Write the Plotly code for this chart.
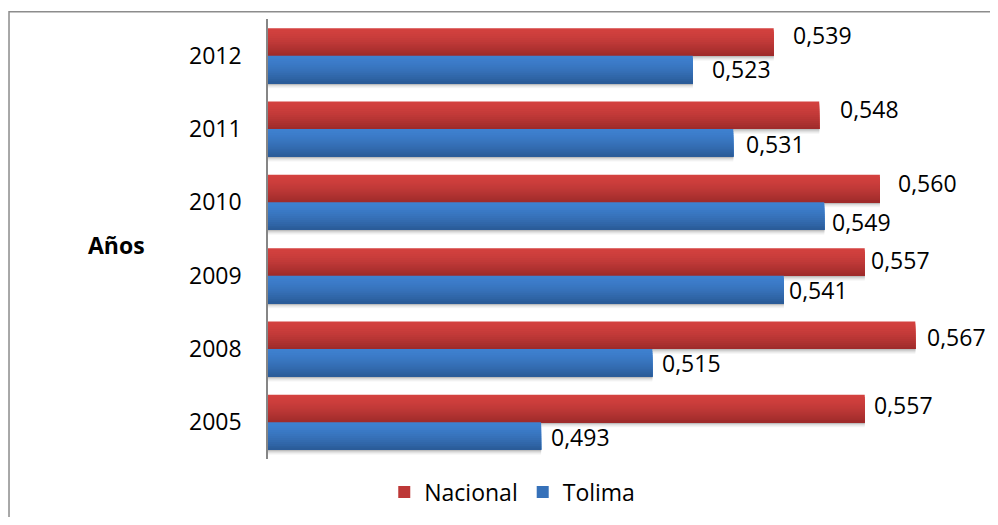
import plotly.graph_objects as go

years = ["2005", "2008", "2009", "2010", "2011", "2012"]
nacional = [0.557, 0.567, 0.557, 0.560, 0.548, 0.539]
tolima = [0.493, 0.515, 0.541, 0.549, 0.531, 0.523]
nacional_labels = ["0,557", "0,567", "0,557", "0,560", "0,548", "0,539"]
tolima_labels = ["0,493", "0,515", "0,541", "0,549", "0,531", "0,523"]

# label placement tweaks (pixels) as in the original hand-placed labels
nac_dx = [7, 10, 4, 16, 19, 17]
nac_dy = [4, -1.5, 2, 6, 6, 7]
tol_dx = [8, 8, 3, 6, 11, 17]
tol_dy = [-0.5, -0.5, -0.5, -5.5, -1, 0]

FONT = "Open Sans"
FS = 23
X0, X1 = 0.439, 0.579

RED_TOP, RED_BOT = (211, 65, 63), (156, 42, 42)
BLUE_TOP, BLUE_BOT = (62, 128, 207), (42, 90, 150)

K = 14
HALF = 0.375
h = HALF / K


def lerp(c0, c1, t):
    return "rgb(%d,%d,%d)" % tuple(round(a + (b - a) * t) for a, b in zip(c0, c1))


def shade(t):
    return t ** 1.5


fig = go.Figure()

# soft shadow under the bars
px = 1 / 73.33
shadow_cols = ["#bdbdbd", "#cfcfcf", "#dfdfdf", "#ececec", "#f6f6f6"]
for vals, top in ((nacional, 0.0), (tolima, -HALF)):
    for k in range(len(shadow_cols) - 1, -1, -1):
        fig.add_trace(go.Bar(
            y=years, x=vals, orientation="h", showlegend=False, hoverinfo="skip",
            offset=top - (k + 1) * px, width=(k + 1) * px,
            marker=dict(color=shadow_cols[k], line=dict(width=0)),
        ))

# gradient bars: nested bars anchored at the bottom edge, each later one shorter,
# so strip j shows between top-(j+1)h and top-jh
for name, vals, top, c0, c1, rank in (
    ("Nacional", nacional, HALF, RED_TOP, RED_BOT, 1),
    ("Tolima", tolima, 0.0, BLUE_TOP, BLUE_BOT, 2),
):
    for j in range(K):
        t = (j + 0.5) / K
        fig.add_trace(go.Bar(
            y=years, x=vals, orientation="h", name=name,
            offset=top - HALF, width=HALF - j * h,
            marker=dict(color=lerp(c0, c1, shade(t)), line=dict(width=0)),
            showlegend=(j == K // 2), legendrank=rank,
            hoverinfo="x+name",
        ))

annotations = []
for i, y in enumerate(years):
    annotations.append(dict(x=nacional[i], y=i + HALF / 2, xref="x", yref="y",
                            text=nacional_labels[i], showarrow=False,
                            xanchor="left", yanchor="middle",
                            xshift=nac_dx[i], yshift=nac_dy[i],
                            font=dict(family=FONT, size=FS, color="#000")))
    annotations.append(dict(x=tolima[i], y=i - HALF / 2, xref="x", yref="y",
                            text=tolima_labels[i], showarrow=False,
                            xanchor="left", yanchor="middle",
                            xshift=tol_dx[i], yshift=tol_dy[i],
                            font=dict(family=FONT, size=FS, color="#000")))
annotations.append(dict(x=-0.214, y=0.486, xref="paper", yref="paper", text="<b>Años</b>",
                        showarrow=False, xanchor="center", yanchor="middle",
                        font=dict(family=FONT, size=FS, color="#000")))

fig.update_layout(
    width=982, height=509,
    margin=dict(l=260, r=14, t=11, b=58, autoexpand=False),
    paper_bgcolor="white", plot_bgcolor="white",
    barmode="overlay",
    xaxis=dict(range=[X0, X1], visible=False, fixedrange=True),
    yaxis=dict(categoryorder="array", categoryarray=years, range=[-0.5, 5.5],
               showline=True, linecolor="#868686", linewidth=1.5, ticks="",
               ticklabelstandoff=20,
               tickfont=dict(family=FONT, size=FS, color="#000"), showgrid=False,
               zeroline=False, fixedrange=True),
    legend=dict(orientation="h", x=0.345, y=-0.075, xanchor="center", yanchor="middle",
                font=dict(family=FONT, size=FS, color="#000"), traceorder="normal"),
    annotations=annotations,
    shapes=[dict(type="rect", xref="paper", yref="paper", x0=-0.3658, x1=1.5,
                 y0=-1, y1=1.0164, line=dict(color="#8c8c8c", width=1.5),
                 fillcolor="rgba(0,0,0,0)", layer="below")],
    showlegend=True,
)

fig.write_html("out.html")
